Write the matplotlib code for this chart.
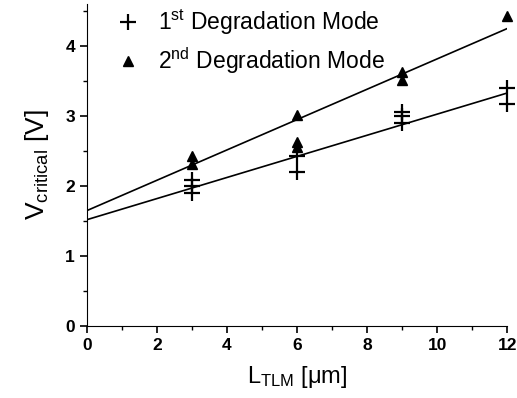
import matplotlib
matplotlib.use("Agg")
import matplotlib.pyplot as plt
from matplotlib.ticker import MultipleLocator
import numpy as np

plt.rcParams['font.family'] = ['Liberation Sans', 'DejaVu Sans']
plt.rcParams['mathtext.fontset'] = 'custom'
plt.rcParams['mathtext.rm'] = 'Liberation Sans'
plt.rcParams['mathtext.it'] = 'Liberation Sans'

# 1st degradation mode (plus markers)
x1 = [3, 3, 3, 6, 6, 9, 9, 9, 12, 12]
y1 = [2.09, 2.0, 1.9, 2.43, 2.2, 3.06, 3.01, 2.9, 3.41, 3.17]
# 2nd degradation mode (triangles)
x2 = [3, 3, 6, 6, 6, 9, 9, 12]
y2 = [2.43, 2.32, 3.02, 2.63, 2.56, 3.63, 3.52, 4.43]

# linear fits (intercept, slope)
fit1 = (1.52, 0.151)
fit2 = (1.65, 0.217)

fig = plt.figure(figsize=(5.17, 3.98), dpi=100)
ax = fig.add_axes([0.168, 0.181, 0.813, 0.808])

xx = np.array([0, 12])
ax.plot(xx, fit1[0] + fit1[1] * xx, color='black', lw=1.2)
ax.plot(xx, fit2[0] + fit2[1] * xx, color='black', lw=1.2)

ax.plot(x1, y1, linestyle='none', marker='+', ms=11, mew=1.6, color='black',
        label=r'1$^{\mathrm{st}}$ Degradation Mode', clip_on=False)
ax.plot(x2, y2, linestyle='none', marker='^', ms=7, color='black',
        label=r'2$^{\mathrm{nd}}$ Degradation Mode', clip_on=False)

ax.set_xlim(0, 12)
ax.set_ylim(0, 4.6)
ax.xaxis.set_major_locator(MultipleLocator(2))
ax.xaxis.set_minor_locator(MultipleLocator(1))
ax.yaxis.set_major_locator(MultipleLocator(1))
ax.yaxis.set_minor_locator(MultipleLocator(0.5))
ax.spines['top'].set_visible(False)
ax.spines['right'].set_visible(False)
ax.tick_params(which='major', direction='out', length=5, width=1.2, labelsize=12.5)
ax.tick_params(which='minor', direction='out', length=3, width=1)
for lab in ax.get_xticklabels() + ax.get_yticklabels():
    lab.set_fontweight('bold')

ax.set_xlabel(r'L$_{\mathrm{TLM}}$ [$\mathrm{\mu}$m]', fontsize=17, labelpad=8)
ax.set_ylabel(r'V$_{\mathrm{critical}}$ [V]', fontsize=19, labelpad=10)

ax.legend(loc='upper left', frameon=False, fontsize=16.5, handletextpad=0.45,
          bbox_to_anchor=(0.003, 1.055), labelspacing=0.4, handlelength=1.7)

fig.savefig('out.png', dpi=100)
